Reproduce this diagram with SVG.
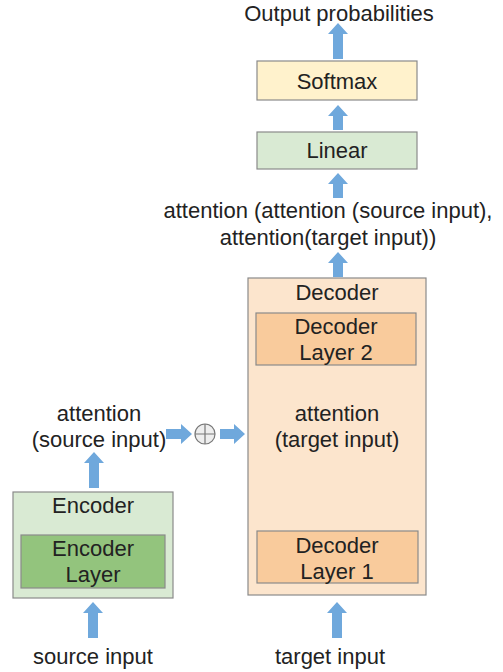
<svg xmlns="http://www.w3.org/2000/svg" width="503" height="672" viewBox="0 0 503 672">
<style>
text{font-family:"Liberation Sans",Arial,sans-serif;font-size:22px;fill:#222;text-anchor:middle}
.arr{fill:#6fa8dc}
.box{stroke:#8a8a8a;stroke-width:1.2}
.yel{fill:#fff2cc}
.lg{fill:#d9ead3}
.dg{fill:#93c47d}
.lo{fill:#fce5cd}
.do{fill:#f9cb9c}
</style>
<rect width="503" height="672" fill="#ffffff"/>
<g id="connectors">
<polygon class="arr" points="338,23 348,34 343,34 343,59 333,59 333,34 328,34"/>
<polygon class="arr" points="338,105 348,116 343,116 343,130 333,130 333,116 328,116"/>
<polygon class="arr" points="338,173 348,184 343,184 343,198 333,198 333,184 328,184"/>
<polygon class="arr" points="338,252 348,263 343,263 343,277 333,277 333,263 328,263"/>
<polygon class="arr" points="94,452 104,463 99,463 99,488 89,488 89,463 84,463"/>
<polygon class="arr" points="93,602 103,613 98,613 98,638 88,638 88,613 83,613"/>
<polygon class="arr" points="337,602 347,613 342,613 342,638 332,638 332,613 327,613"/>
<polygon class="arr" points="192,434 181,444 181,439 166,439 166,429 181,429 181,424"/>
<polygon class="arr" points="245,434 234,444 234,439 220,439 220,429 234,429 234,424"/>
</g>
<g id="output"><text x="339" y="21">Output probabilities</text></g>
<g id="softmax"><rect class="box yel" x="257" y="61" width="160" height="39"/><text x="337" y="89">Softmax</text></g>
<g id="linear"><rect class="box lg" x="257" y="132" width="160" height="37"/><text x="337" y="158">Linear</text></g>
<g id="attn-combined"><text x="328" y="218">attention (attention (source input),</text><text x="328" y="245">attention(target input))</text></g>
<g id="decoder">
<rect class="box lo" x="248" y="278" width="178" height="317"/>
<text x="337" y="300">Decoder</text>
<text x="337" y="421">attention</text>
<text x="337" y="447">(target input)</text>
</g>
<g id="decoder-layer-2"><rect class="box do" x="256" y="313" width="160" height="52"/><text x="336" y="334">Decoder</text><text x="336" y="360">Layer 2</text></g>
<g id="decoder-layer-1"><rect class="box do" x="257" y="531" width="161" height="52"/><text x="337" y="553">Decoder</text><text x="337" y="579">Layer 1</text></g>
<g id="attn-source"><text x="99" y="421">attention</text><text x="99" y="447">(source input)</text></g>
<g id="plus"><circle cx="205" cy="434" r="10" fill="#eeeeee" stroke="#777" stroke-width="1.2"/><path d="M195,434H215M205,424V444" stroke="#777" stroke-width="1.2"/></g>
<g id="encoder">
<rect class="box lg" x="13" y="492" width="160" height="106"/>
<text x="93" y="513">Encoder</text>
</g>
<g id="encoder-layer"><rect class="box dg" x="21" y="535" width="144" height="53"/><text x="93" y="556">Encoder</text><text x="93" y="582">Layer</text></g>
<g id="source-input"><text x="93" y="664">source input</text></g>
<g id="target-input"><text x="330" y="664">target input</text></g>
</svg>
